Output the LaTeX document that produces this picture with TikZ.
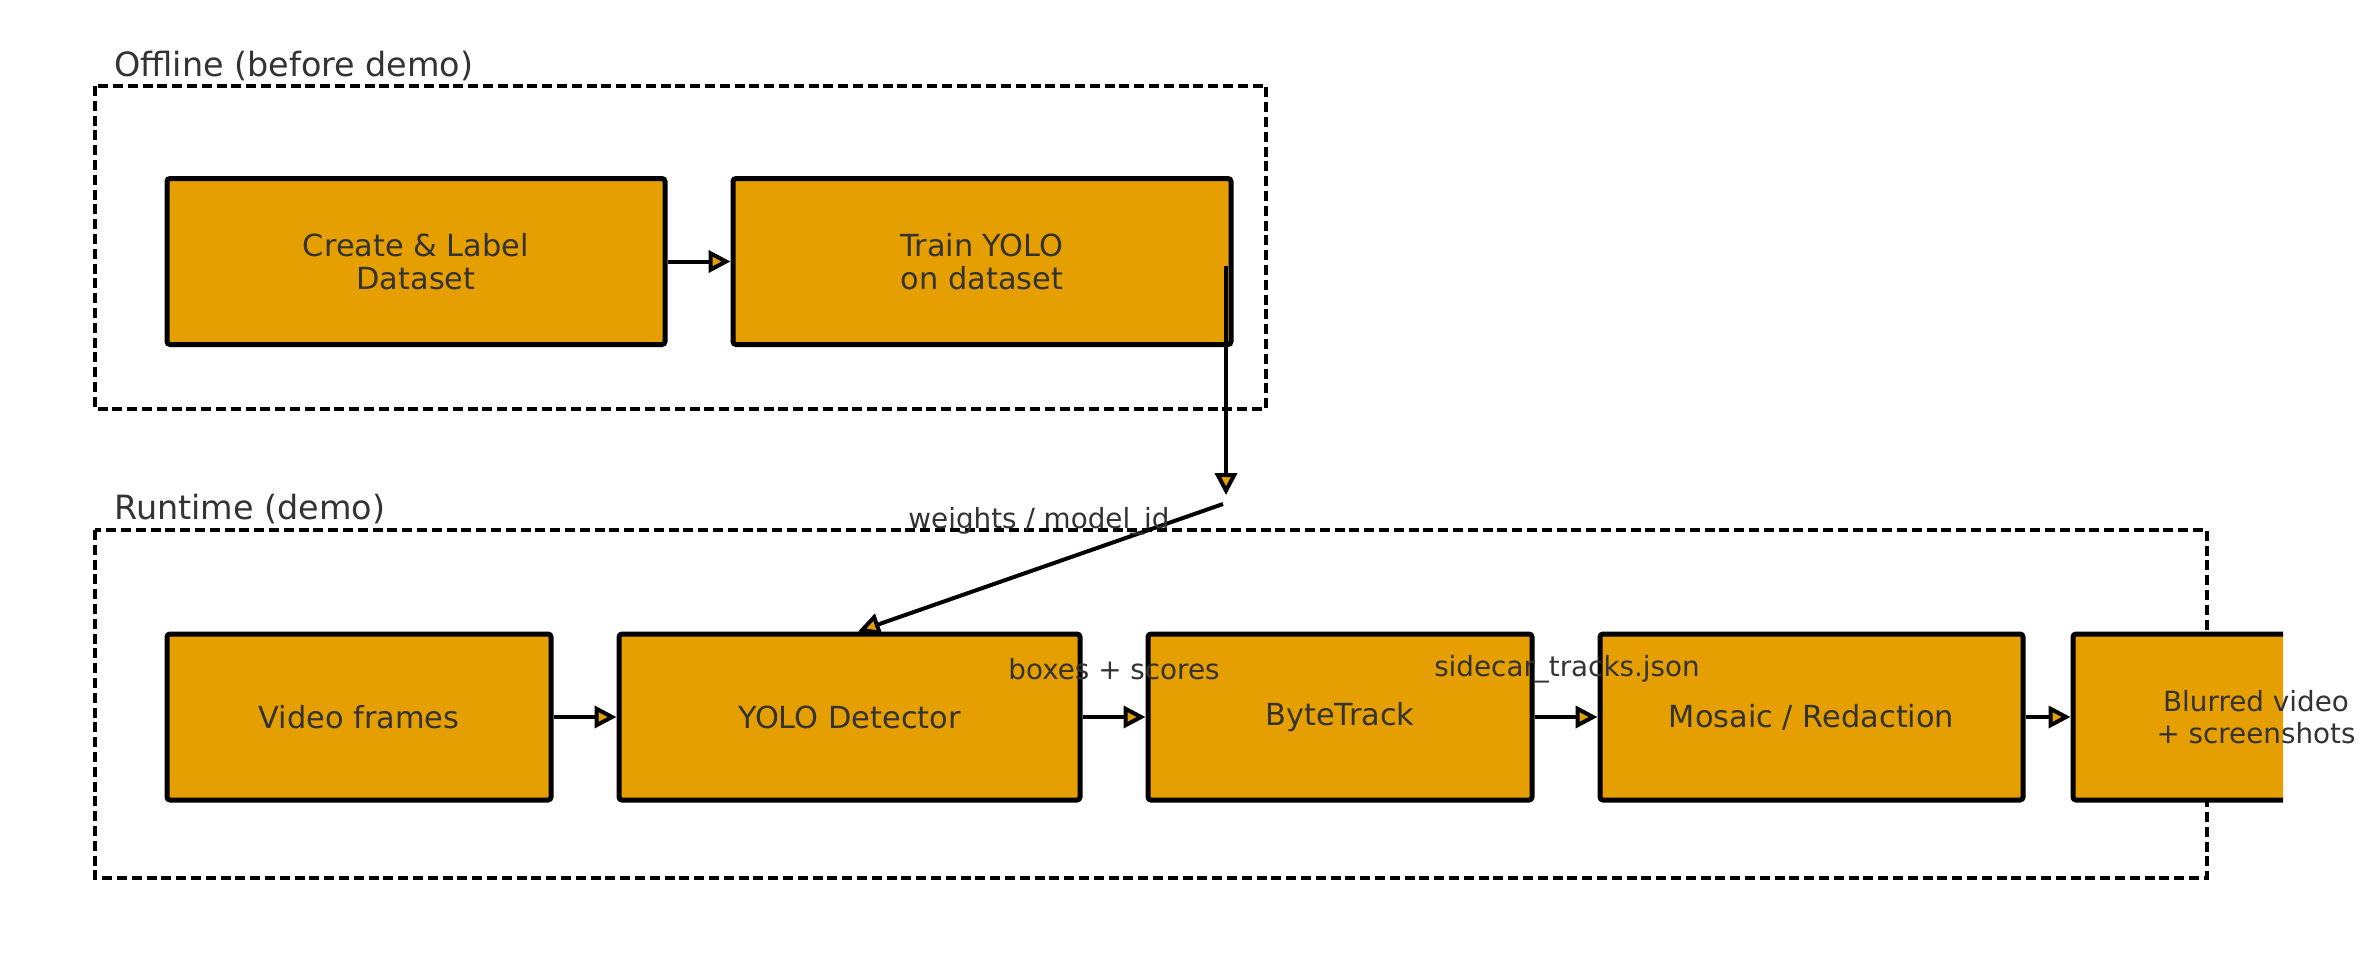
\documentclass[tikz,border=0pt]{standalone}
\usepackage{fontspec}
\setmainfont{DejaVu Sans}
\usetikzlibrary{arrows.meta}
\definecolor{boxfill}{HTML}{E69F00}
\definecolor{txt}{HTML}{333333}
\begin{document}
\begin{tikzpicture}[x=0.5pt,y=-0.5pt,
  stagebox/.style={draw=black, line width=2.5pt, fill=boxfill, rounded corners=1.5pt, text=txt,
    font=\fontsize{15.2}{16.7}\selectfont, align=center, inner sep=0pt, minimum height=83pt},
  grp/.style={draw=black, line width=1.8pt, dash pattern=on 5pt off 2.4pt},
  grplabel/.style={text=txt, font=\fontsize{16.7}{20}\selectfont, anchor=west, inner sep=0pt},
  elabel/.style={text=txt, font=\fontsize{13.9}{16}\selectfont, inner sep=0pt, align=center},
  flow/.style={line width=2pt, -{Triangle[length=11pt,width=11pt,fill=boxfill,line width=2pt]}},
]
\useasboundingbox (0,0) rectangle (2374,980);

% group frames
\draw[grp] (95,86) rectangle (1266,409);
\draw[grp] (95,530) rectangle (2207,878);
\node[grplabel] (offlab) at (114,66) {Offline (before demo)};
\node[grplabel] (runlab) at (114,509) {Runtime (demo)};

% offline stages
\node[stagebox, minimum width=249pt] (create) at (416,261.5) {Create \& Label\\Dataset};
\node[stagebox, minimum width=249pt] (train) at (982,261.5) {Train YOLO\\on dataset};

% runtime stages
\node[stagebox, minimum width=192pt] (video) at (359,717) {Video frames};
\node[stagebox, minimum width=230.5pt] (yolo) at (849.5,717) {YOLO Detector};
\node[stagebox, minimum width=192pt] (byte) at (1340,717) {ByteTrack};
\node[stagebox, minimum width=211.5pt] (mosaic) at (1811.5,717) {Mosaic / Redaction};
\begin{scope}
  \clip (0,0) rectangle (2283,980);
  \node[stagebox, minimum width=192pt] (blur) at (2265,717) {};
\end{scope}
\node[elabel] (blurtxt) at (2256,717) {Blurred video\\+ screenshots};

% connectors
\draw[flow] (create.east) -- (train.west);
\coordinate (vstart) at (1226,266);
\coordinate (vend) at (1226,495);
\draw[flow] (vstart) -- (vend);
\coordinate (dstart) at (1223,504);
\draw[flow] (dstart) -- ([xshift=4.25pt]yolo.north);
\draw[flow] (video.east) -- (yolo.west);
\draw[flow] (yolo.east) -- (byte.west);
\draw[flow] (byte.east) -- (mosaic.west);
\draw[flow] (mosaic.east) -- (blur.west);

% edge labels
\node[elabel] (wlab) at (1039,521) {weights / model\_id};
\node[elabel] (blab) at (1114,669) {boxes + scores};
\node[elabel] (slab) at (1567,669) {sidecar\_tracks.json};
\end{tikzpicture}
\end{document}
